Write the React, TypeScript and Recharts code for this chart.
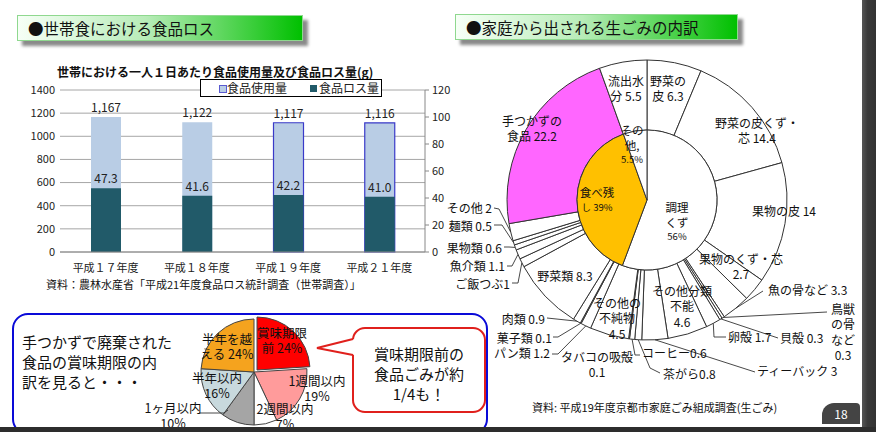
import React from 'react';
import { BarChart, Bar, XAxis, YAxis, CartesianGrid, LabelList, Cell, PieChart, Pie } from 'recharts';

// --- bar chart data (g / person / day)
const years = ['平成１７年度', '平成１８年度', '平成１９年度', '平成２１年度'];
const usage = [1167, 1122, 1117, 1116];
const loss = [47.3, 41.6, 42.2, 41.0];
const leftTicks = [0, 200, 400, 600, 800, 1000, 1200, 1400];
const rightTicks = [0, 20, 40, 60, 80, 100, 120];

// --- expiry breakdown of untouched food (%)
const expiryNames = ['賞味期限前', '1週間以内', '2週間以内', '1ヶ月以内', '半年以内', '半年を越える'];
const expiryShares = [24, 19, 7, 10, 16, 24];
const expiryLabels = ['賞味期限\n前 24%', '1週間以内\n19%', '2週間以内\n7%', '1ヶ月以内\n10%', '半年以内\n16%', '半年を越\nえる 24%'];
const expiryColors = ['#ff0000', '#ff9b9b', '#ffffff', '#a5a5a5', '#c8d9dd', '#f5a31e'];

// --- household kitchen waste composition (%)
const groupNames = ['調理くず', '食べ残し', 'その他'];
const groupShares = [56, 39, 5.5];
const groupLabels = ['調理\nくず\n56%', '食べ残\nし 39%', 'その\n他,\n5.5%'];
const groupColors = ['#ffffff', '#ffc000', '#ffffff'];

const wasteNames = [
  '野菜の皮', '野菜の皮くず・芯', '果物の皮', '果物のくず・芯', '魚の骨など', '鳥獣の骨など', '貝殻', '卵殻',
  'その他分類不能', 'ティーバック', '茶がら', 'コーヒー', 'タバコの吸殻', 'その他の不純物', 'パン類', '菓子類',
  '肉類', '野菜類', 'ご飯つぶ', '魚介類', '果物類', '麺類', 'その他', '手つかずの食品', '流出水分',
];
const wasteValues = [6.3, 14.4, 14, 2.7, 3.3, 0.3, 0.3, 1.7, 4.6, 3, 0.8, 0.6, 0.1, 4.5, 1.2, 0.1, 0.9, 8.3, 1, 1.1, 0.6, 0.5, 2, 22.2, 5.5];
const wasteLabels = [
  '野菜の\n皮 6.3', '野菜の皮くず・\n芯 14.4', '果物の皮 14', '果物のくず・芯\n2.7', '魚の骨など 3.3', '鳥獣\nの骨\nなど\n0.3',
  '貝殻 0.3', '卵殻 1.7', 'その他分類\n不能\n4.6', 'ティーバック 3', '茶がら0.8', 'コーヒー0.6', 'タバコの吸殻\n0.1',
  'その他の\n不純物\n4.5', 'パン類 1.2', '菓子類 0.1', '肉類 0.9', '野菜類 8.3', 'ご飯つぶ1', '魚介類 1.1', '果物類 0.6',
  '麺類 0.5', 'その他 2', '手つかずの\n食品 22.2', '流出水\n分 5.5',
];

const barData = years.map((year, i) => ({ year, usage: usage[i], loss: loss[i] }));
const expiryData = expiryNames.map((name, i) => ({ name, value: expiryShares[i] }));
const groupData = groupNames.map((name, i) => ({ name, value: groupShares[i] }));
const wasteData = wasteNames.map((name, i) => ({ name, value: wasteValues[i] }));

// label placement, relative to the pie centre
type Spot = { dx: number; dy: number; anchor?: 'start' | 'middle' | 'end'; lead?: number[][]; edge?: boolean };

const wasteSpots: Spot[] = [
  { dx: 21, dy: -120 },
  { dx: 110, dy: -78 },
  { dx: 137, dy: 10 },
  { dx: 94, dy: 58 },
  { dx: 121, dy: 89, anchor: 'start', lead: [[116, 91]] },
  { dx: 196, dy: 108, lead: [[180, 112]] },
  { dx: 133, dy: 137, anchor: 'start', lead: [[131, 138]] },
  { dx: 81, dy: 136, anchor: 'start', lead: [[67, 137], [79, 137]] },
  { dx: 35, dy: 90 },
  { dx: 110, dy: 170, anchor: 'start', lead: [[108, 172]] },
  { dx: 16, dy: 173, anchor: 'start', lead: [[3, 168], [13, 173]] },
  { dx: -5, dy: 152, anchor: 'start', lead: [[-12, 155], [-7, 155]] },
  { dx: -50, dy: 156 },
  { dx: -30, dy: 102 },
  { dx: -97, dy: 152, anchor: 'end', lead: [[-89, 154], [-95, 154]] },
  { dx: -95, dy: 137, anchor: 'end', lead: [[-89, 137], [-94, 137]] },
  { dx: -102, dy: 118, anchor: 'end', lead: [[-100, 118]] },
  { dx: -82, dy: 75 },
  { dx: -137, dy: 83, anchor: 'end', lead: [[-129, 83], [-135, 83]] },
  { dx: -142, dy: 65, anchor: 'end', lead: [[-135, 66], [-140, 66]] },
  { dx: -145, dy: 47, anchor: 'end', lead: [[-138, 47], [-143, 47]] },
  { dx: -155, dy: 25, anchor: 'end', lead: [[-145, 25], [-153, 25]] },
  { dx: -155, dy: 7, anchor: 'end', lead: [[-148, 9], [-153, 8]] },
  { dx: -115, dy: -80 },
  { dx: -21, dy: -120 },
];
const groupSpots: Spot[] = [{ dx: 30, dy: 7 }, { dx: -50, dy: -8 }, { dx: -15, dy: -70 }];
const expirySpots: Spot[] = [
  { dx: 28, dy: -40 },
  { dx: 63, dy: 8 },
  { dx: 31, dy: 36 },
  { dx: -81, dy: 35, edge: false, lead: [[-55, 41], [-30, 41], [-26, 38]] },
  { dx: -37, dy: 5 },
  { dx: -27, dy: -34 },
];

const RAD = Math.PI / 180;
const FONT = "'Noto Sans CJK JP', 'Noto Sans', sans-serif";
const NO_MARGIN = { top: 0, right: 0, bottom: 0, left: 0 };

const makeLabel = (texts: string[], spots: Spot[], fontSize: number, lh: number, smallPct = false) => (props: any) => {
  const { cx, cy, midAngle, outerRadius, index } = props;
  const s = spots[index];
  if (!s) return null;
  const lines = texts[index].split('\n');
  let pts: number[][] = (s.lead || []).map(([x, y]) => [cx + x, cy + y]);
  if (s.lead && s.edge !== false) {
    pts = [[cx + outerRadius * Math.cos(-midAngle * RAD), cy + outerRadius * Math.sin(-midAngle * RAD)], ...pts];
  }
  return (
    <g key={`lbl-${index}`}>
      {pts.length > 1 && (
        <polyline points={pts.map((p) => p.join(',')).join(' ')} fill="none" stroke="#333" strokeWidth={0.9} />
      )}
      {lines.map((ln, i) => (
        <text
          key={i}
          x={cx + s.dx}
          y={cy + s.dy + i * lh}
          textAnchor={s.anchor || 'middle'}
          dominantBaseline="central"
          fontSize={smallPct && ln.includes('%') ? fontSize - 2 : fontSize}
          fill="#111"
        >
          {ln}
        </text>
      ))}
    </g>
  );
};

const Header = ({ left, top, width, text }: { left: number; top: number; width: number; text: string }) => (
  <div
    style={{
      position: 'absolute', left, top, width, height: 26, boxSizing: 'border-box',
      background: 'linear-gradient(to right, #f6fff6 0%, #b8ecb8 45%, #00c000 100%)',
      border: '1px solid #8fd88f', boxShadow: '5px 5px 3px #8a8a8a',
      fontSize: 15.5, lineHeight: '24px', paddingLeft: 10, color: '#111', whiteSpace: 'nowrap',
    }}
  >
    {text}
  </div>
);

export default function App() {
  return (
    <div style={{ position: 'absolute', left: 0, top: 0, width: 876, height: 432, background: '#fff', overflow: 'hidden', fontFamily: FONT }}>
      <Header left={17} top={15} width={286} text="●世帯食における食品ロス" />
      <Header left={455} top={14} width={283} text="●家庭から出される生ごみの内訳" />

      {/* bar chart */}
      <div style={{ position: 'absolute', left: 57, top: 64, fontSize: 12, fontWeight: 'bold', color: '#111', whiteSpace: 'nowrap', lineHeight: '16px' }}>
        世帯における一人１日あたり食品使用量及び食品ロス量(g)
      </div>
      <div style={{ position: 'absolute', left: 0, top: 50 }}>
        <BarChart width={470} height={235} data={barData} margin={{ top: 40, right: 10, bottom: 8, left: 10 }} barSize={30} barGap={-30}>
          <CartesianGrid vertical={false} stroke="#a6a6a6" />
          <XAxis dataKey="year" height={25} axisLine={{ stroke: '#888' }} tickLine={false} tickMargin={6} tick={{ fontSize: 11, fill: '#222' }} />
          <YAxis domain={[0, 1400]} ticks={leftTicks} width={50} axisLine={false} tickLine={false} tickSize={3} tickMargin={2} tick={{ fontSize: 11, fill: '#222' }} />
          <YAxis yAxisId="right" orientation="right" domain={[0, 120]} ticks={rightTicks} width={35} axisLine={{ stroke: '#888' }} tickLine={{ stroke: '#888' }} tickSize={4} tickMargin={3} tick={{ fontSize: 11, fill: '#222' }} />
          <Bar dataKey="usage" fill="#b9cde5" isAnimationActive={false}>
            {barData.map((d, i) => (
              <Cell key={d.year} stroke={i >= 2 ? '#3a3ac8' : 'none'} strokeWidth={1.2} />
            ))}
            <LabelList dataKey="usage" position="top" offset={5} fontSize={12} fill="#222" formatter={(v: any) => Number(v).toLocaleString('en-US')} />
          </Bar>
          <Bar yAxisId="right" dataKey="loss" fill="#215a69" isAnimationActive={false}>
            <LabelList dataKey="loss" position="top" offset={5} fontSize={12} fill="#222" formatter={(v: any) => Number(v).toFixed(1)} />
          </Bar>
        </BarChart>
      </div>
      <div style={{ position: 'absolute', left: 200, top: 79, width: 182, height: 18, boxSizing: 'border-box', border: '1px solid #000', background: '#fff', fontSize: 12, lineHeight: '16px', color: '#222', whiteSpace: 'nowrap' }}>
        <span style={{ position: 'absolute', left: 18, top: 5, width: 6, height: 6, background: '#b9cde5', border: '1px solid #5a5ad0' }} />
        <span style={{ position: 'absolute', left: 26, top: 0 }}>食品使用量</span>
        <span style={{ position: 'absolute', left: 109, top: 5, width: 7, height: 7, background: '#215a69' }} />
        <span style={{ position: 'absolute', left: 118, top: 0 }}>食品ロス量</span>
      </div>
      <div style={{ position: 'absolute', left: 46, top: 276, fontSize: 11, color: '#111', whiteSpace: 'nowrap', lineHeight: '16px' }}>
        資料：農林水産省「平成21年度食品ロス統計調査（世帯調査）」
      </div>

      {/* bottom-left callout box */}
      <div style={{ position: 'absolute', left: 12, top: 313, width: 476, height: 122, boxSizing: 'border-box', border: '2.5px solid #0a0ad8', borderRadius: 16 }} />
      <div style={{ position: 'absolute', left: 22, top: 332, fontSize: 15, lineHeight: '20px', color: '#111', whiteSpace: 'pre' }}>
        {'手つかずで廃棄された\n食品の賞味期限の内\n訳を見ると・・・'}
      </div>
      <div style={{ position: 'absolute', left: 140, top: 312 }}>
        <PieChart width={230} height={118} margin={NO_MARGIN}>
          <Pie data={expiryData} dataKey="value" nameKey="name" cx={117} cy={58} outerRadius={53} startAngle={90} endAngle={-270} isAnimationActive={false} labelLine={false}>
            {expiryData.map((d, i) => (
              <Cell key={d.name} fill={i === 0 ? expiryColors[i] : 'none'} stroke={i === 0 ? '#444' : 'none'} strokeWidth={1} />
            ))}
          </Pie>
          <Pie data={expiryData} dataKey="value" nameKey="name" cx={114} cy={60} outerRadius={53} startAngle={90} endAngle={-270} isAnimationActive={false} labelLine={false}
            label={makeLabel(expiryLabels, expirySpots, 12.5, 15)}>
            {expiryData.map((d, i) => (
              <Cell key={d.name} fill={i === 0 ? 'none' : expiryColors[i]} stroke={i === 0 ? 'none' : '#444'} strokeWidth={1} />
            ))}
          </Pie>
        </PieChart>
      </div>
      <svg style={{ position: 'absolute', left: 0, top: 0 }} width={876} height={432}>
        <rect x={353} y={328} width={132} height={84} rx={12} fill="#fff" stroke="#e0201c" strokeWidth={2} />
        <polygon points="354.5,339 317,348 354.5,355" fill="#fff" />
        <polyline points="353,339 317,348 353,355" fill="none" stroke="#e0201c" strokeWidth={2} />
        <text x={419} y={353} textAnchor="middle" dominantBaseline="central" fontSize={15} fill="#111">賞味期限前の</text>
        <text x={419} y={373} textAnchor="middle" dominantBaseline="central" fontSize={15} fill="#111">食品ごみが約</text>
        <text x={419} y={393} textAnchor="middle" dominantBaseline="central" fontSize={15} fill="#111">1/4も！</text>
      </svg>

      {/* kitchen waste donut */}
      <div style={{ position: 'absolute', left: 440, top: 40 }}>
        <PieChart width={420} height={385} margin={NO_MARGIN}>
          <Pie data={wasteData} dataKey="value" nameKey="name" cx={207} cy={160} innerRadius={70} outerRadius={140} startAngle={90} endAngle={-270} isAnimationActive={false} labelLine={false}
            label={makeLabel(wasteLabels, wasteSpots, 12, 15.5)}>
            {wasteData.map((d) => (
              <Cell key={d.name} fill={d.name === '手つかずの食品' ? '#ff66ff' : '#ffffff'} stroke="#333" strokeWidth={1} />
            ))}
          </Pie>
          <Pie data={groupData} dataKey="value" nameKey="name" cx={207} cy={160} outerRadius={70} startAngle={90} endAngle={-270} isAnimationActive={false} labelLine={false}
            label={makeLabel(groupLabels, groupSpots, 11.5, 14.5, true)}>
            {groupData.map((d, i) => (
              <Cell key={d.name} fill={groupColors[i]} stroke="#333" strokeWidth={1} />
            ))}
          </Pie>
        </PieChart>
      </div>
      <div style={{ position: 'absolute', left: 532, top: 399, fontSize: 11, color: '#111', whiteSpace: 'nowrap', lineHeight: '16px' }}>
        資料: 平成19年度京都市家庭ごみ組成調査(生ごみ)
      </div>

      {/* slide chrome */}
      <div style={{ position: 'absolute', left: 822, top: 403, width: 38, height: 21, background: '#444', borderTopLeftRadius: 12, borderTopRightRadius: 4, color: '#fff', fontSize: 12, lineHeight: '21px', textAlign: 'center' }}>18</div>
      <div style={{ position: 'absolute', left: 862, top: 0, width: 14, height: 432, background: 'linear-gradient(to right, #555 0%, #3a3a3a 40%, #333 100%)' }} />
      <div style={{ position: 'absolute', left: 0, top: 427, width: 876, height: 5, background: '#2d2d2d' }} />
    </div>
  );
}
